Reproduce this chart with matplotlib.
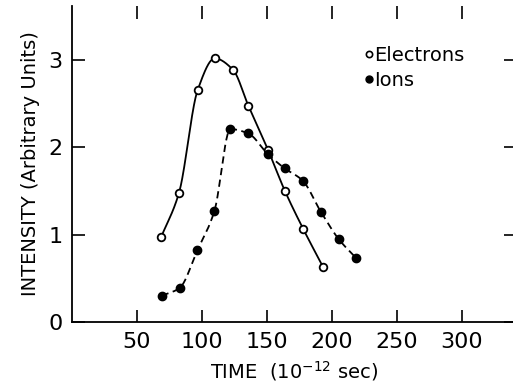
import numpy as np
import matplotlib
matplotlib.use("Agg")
import matplotlib.pyplot as plt
from matplotlib.lines import Line2D

# data (time in 1e-12 s, intensity arbitrary units)
t_electrons = [68.5, 82.3, 96.7, 109.8, 123.8, 135.6, 150.8, 163.8, 177.7, 193.1]
i_electrons = [0.97, 1.48, 2.66, 3.02, 2.89, 2.48, 1.97, 1.50, 1.07, 0.63]
t_ions = [69.0, 82.8, 96.4, 109.5, 121.8, 135.6, 150.8, 163.6, 177.4, 191.5, 205.1, 218.7]
i_ions = [0.30, 0.39, 0.82, 1.27, 2.21, 2.16, 1.92, 1.76, 1.62, 1.26, 0.95, 0.73]
x_ticks = [50, 100, 150, 200, 250, 300]
y_ticks = [0, 1, 2, 3]


def smooth_curve(x, y, n=40):
    """Monotone (Fritsch-Carlson) cubic Hermite curve through the data points."""
    x = np.asarray(x, float)
    y = np.asarray(y, float)
    h = np.diff(x)
    d = np.diff(y) / h
    m = np.zeros_like(y)
    m[0], m[-1] = d[0], d[-1]
    for k in range(1, len(x) - 1):
        if d[k - 1] * d[k] <= 0:
            m[k] = 0.0
        else:
            w1 = 2 * h[k] + h[k - 1]
            w2 = h[k] + 2 * h[k - 1]
            m[k] = (w1 + w2) / (w1 / d[k - 1] + w2 / d[k])
    xs, ys = [], []
    for k in range(len(x) - 1):
        s = np.linspace(0, 1, n, endpoint=False)
        h00 = 2 * s**3 - 3 * s**2 + 1
        h10 = s**3 - 2 * s**2 + s
        h01 = -2 * s**3 + 3 * s**2
        h11 = s**3 - s**2
        xs.append(x[k] + s * h[k])
        ys.append(h00 * y[k] + h10 * h[k] * m[k] + h01 * y[k + 1] + h11 * h[k] * m[k + 1])
    xs.append([x[-1]])
    ys.append([y[-1]])
    return np.concatenate(xs), np.concatenate(ys)


plt.rcParams['font.family'] = ['DejaVu Sans']
fig = plt.figure(figsize=(5.13, 3.87), dpi=100)
ax = fig.add_axes([72 / 513, 65 / 387, 444 / 513, 316 / 387])

ex, ey = smooth_curve(t_electrons, i_electrons)
ix, iy = smooth_curve(t_ions, i_ions)
ax.plot(ex, ey, color='black', lw=1.3, zorder=2)
ax.plot(ix, iy, color='black', lw=1.3, ls=(0, (4, 2.5)), zorder=2)
ax.plot(t_electrons, i_electrons, ls='none', marker='o', ms=5.5, mfc='white',
        mec='black', mew=1.3, zorder=3)
ax.plot(t_ions, i_ions, ls='none', marker='o', ms=6, mfc='black',
        mec='black', zorder=3)

ax.set_xlim(0, 341.5)
ax.set_ylim(0, 3.62)
ax.set_xticks(x_ticks)
ax.set_yticks(y_ticks)
ax.tick_params(direction='in', length=9, width=1.2, labelsize=16,
               top=True, right=True)
ax.tick_params(axis='x', pad=7)
ax.tick_params(axis='y', pad=7)
ax.spines['top'].set_visible(False)
ax.spines['right'].set_visible(False)
for s in ['left', 'bottom']:
    ax.spines[s].set_linewidth(1.3)

ax.set_xlabel('TIME  (10$^{-12}$ sec)', fontsize=14, labelpad=5)
ax.set_ylabel('INTENSITY (Arbitrary Units)', fontsize=14, labelpad=6)

handles = [Line2D([], [], ls='none', marker='o', ms=4.5, mfc='white', mec='black', mew=1.2),
           Line2D([], [], ls='none', marker='o', ms=5, mfc='black', mec='black')]
ax.legend(handles, ['Electrons', 'Ions'], loc='upper left', bbox_to_anchor=(0.642, 0.898),
          frameon=False, handlelength=0.4, handletextpad=0.1, labelspacing=0.3,
          fontsize=14, borderaxespad=0)

fig.savefig('out.png', dpi=100)
